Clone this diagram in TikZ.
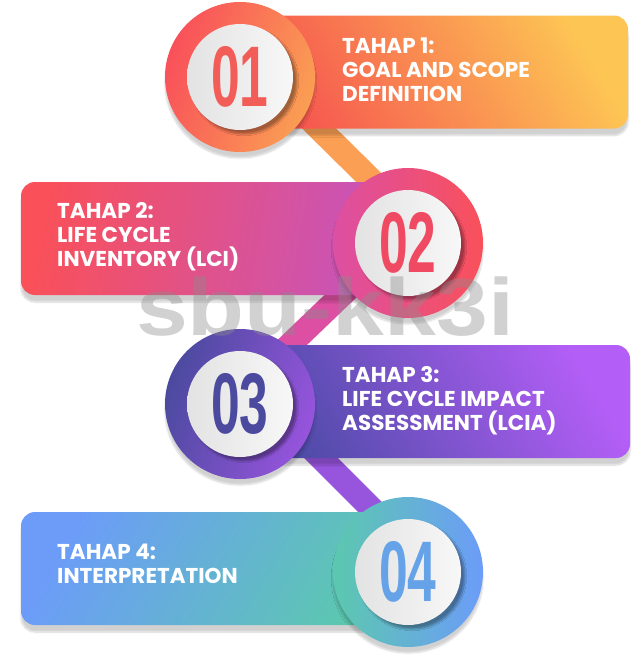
\documentclass[tikz,border=0pt]{standalone}
\usepackage{fontspec}
\usepackage{graphicx}
\newfontfamily\stepfont{Poppins}
\newfontfamily\numfont{Liberation Sans}
\usetikzlibrary{shadows.blur,backgrounds}
\definecolor{redA}{HTML}{F6564F}
\definecolor{yelA}{HTML}{FDC554}
\definecolor{redB}{HTML}{F9505A}
\definecolor{magB}{HTML}{C554BF}
\definecolor{indC}{HTML}{4F4BA8}
\definecolor{purC}{HTML}{B35EF6}
\definecolor{bluD}{HTML}{6C9CF8}
\definecolor{tealD}{HTML}{5CC8AF}
\definecolor{linkA}{HTML}{FA9F53}
\definecolor{linkB}{HTML}{DC4FA2}
\definecolor{linkC}{HTML}{9754DD}
\definecolor{numA}{HTML}{F35D57}
\definecolor{numB}{HTML}{EF4A62}
\definecolor{numC}{HTML}{4B4A9F}
\definecolor{numD}{HTML}{66A2E8}
\newcommand{\stepnum}[1]{\scalebox{0.6}[1]{#1}}
\tikzset{
  stepbox/.style={rounded corners=14pt,inner sep=0pt,minimum height=113pt,
    blur shadow={shadow xshift=0pt,shadow yshift=-7pt,shadow opacity=18,shadow blur steps=8}},
  ring/.style={circle,inner sep=0pt,minimum size=150pt,
    blur shadow={shadow xshift=0pt,shadow yshift=-6pt,shadow opacity=18,shadow blur steps=8}},
  dial/.style={circle,inner sep=0pt,minimum size=106pt,left color=black!11,right color=white!97!black,
    blur shadow={shadow xshift=4pt,shadow yshift=-4pt,shadow opacity=35,shadow blur steps=8}},
  steptext/.style={anchor=west,align=left,inner sep=0pt,text=white,font=\stepfont\bfseries\fontsize{21.5}{24}\selectfont},
  digits/.style={font=\numfont\bfseries\fontsize{86}{86}\selectfont},
  link/.style={line width=24pt}
}
\begin{document}
\begin{tikzpicture}[x=1pt,y=-1pt]
	\useasboundingbox (0,0) rectangle (640,667);
	% boxes
	\node[stepbox,minimum width=388pt,left color=redA,right color=yelA,shading angle=120] (s1) at (434,72) {};
	\node[stepbox,minimum width=387pt,left color=redB,right color=magB,shading angle=80] (s2) at (214.5,238.5) {};
	\node[stepbox,minimum width=390pt,left color=indC,right color=purC,shading angle=120] (s3) at (435,401.5) {};
	\node[stepbox,minimum width=387pt,left color=bluD,right color=tealD,shading angle=60] (s4) at (214.5,568.5) {};
	% rings
	\node[ring,left color=redB,right color=linkA,shading angle=70] (r1) at (240,77) {};
	\node[ring,left color=linkB,right color=redB,shading angle=90] (r2) at (408,243) {};
	\node[ring,left color=numC,right color=linkC,shading angle=70] (r3) at (240,404) {};
	\node[ring,left color=tealD,right color=bluD,shading angle=90] (r4) at (408,572) {};
	\node[dial] (d1) at (r1) {};
	\node[dial] (d2) at (r2) {};
	\node[dial] (d3) at (r3) {};
	\node[dial] (d4) at (r4) {};
	\node[digits,text=numA] (n1) at (d1) {\stepnum{01}};
	\node[digits,text=numB] (n2) at (d2) {\stepnum{02}};
	\node[digits,text=numC] (n3) at (d3) {\stepnum{03}};
	\node[digits,text=numD] (n4) at (d4) {\stepnum{04}};
	% links
	\begin{pgfonlayer}{background}
		\draw[link,linkA] ([xshift=27pt]r1.center) -- ([xshift=27pt]r2.center);
		\draw[link,linkB] ([xshift=-12pt]r2.center) -- ([xshift=-12pt]r3.center);
		\draw[link,linkC] ([xshift=27pt]r3.center) -- ([xshift=27pt]r4.center);
	\end{pgfonlayer}
	% texts
	\node[steptext] (t1) at (342,70) {TAHAP 1:\\GOAL AND SCOPE\\DEFINITION};
	\node[steptext] (t2) at (57,237) {TAHAP 2:\\LIFE CYCLE\\INVENTORY (LCI)};
	\node[steptext] (t3) at (342,401) {TAHAP 3:\\LIFE CYCLE IMPACT\\ASSESSMENT (LCIA)};
	\node[steptext] (t4) at (57,563.5) {TAHAP 4:\\INTERPRETATION};
	\node[font=\numfont\bfseries\fontsize{81}{81}\selectfont,text=black!45,opacity=0.4,anchor=base] (mark) at (325,335) {\scalebox{1.15}[1]{sbu-kk3i}};
\end{tikzpicture}
\end{document}
